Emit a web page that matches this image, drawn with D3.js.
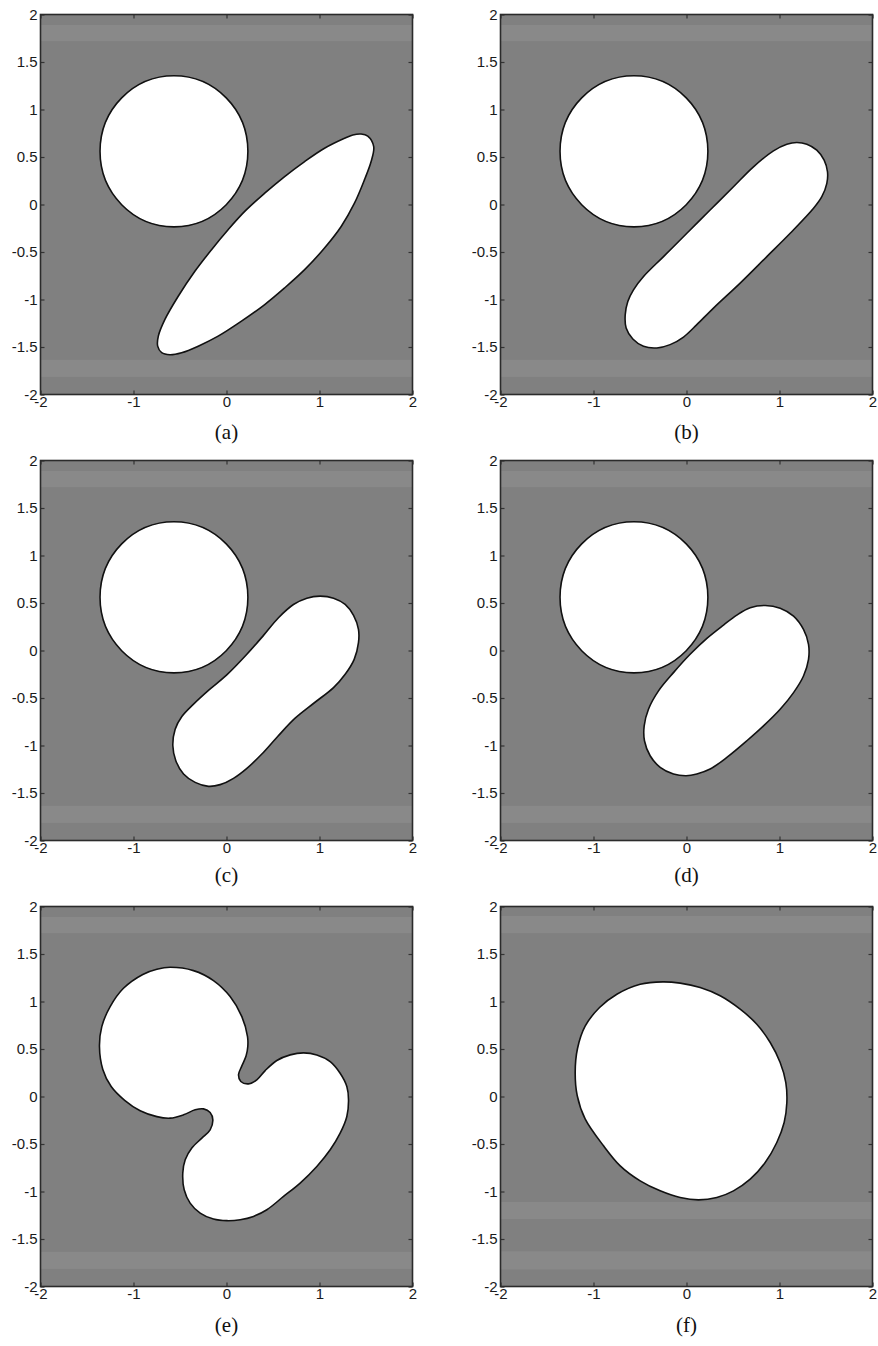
<!DOCTYPE html>
<html>
<head>
<meta charset="utf-8">
<script src="https://cdn.jsdelivr.net/npm/d3@7"></script>
<style>
  body { margin: 0; background: #fff; }
  svg { display: block; }
</style>
</head>
<body>
<svg id="fig" width="878" height="1346"></svg>
<script>
// Axis ticks
const xTicks = [-2, -1, 0, 1, 2];
const yTicks = [-2, -1.5, -1, -0.5, 0, 0.5, 1, 1.5, 2];
const panelNames = ["(a)", "(b)", "(c)", "(d)", "(e)", "(f)"];

// Fixed disc shown in panels (a)-(d)
const circleCenter = [-0.565, 0.56];
const circleRadius = 0.795;

// Lighter horizontal stripes of the background, [yLow, yHigh]
const stripes = [[1.72, 1.89], [-1.815, -1.635]];
const stripesF = [[1.72, 1.90], [-1.29, -1.11], [-1.82, -1.63]];

// Zero level-set boundaries, [x, y] points along each closed contour
const shapeA = [[1.447,0.742],[1.519,0.721],[1.583,0.609],[1.555,0.452],[1.483,0.259],[1.376,0.014],[1.233,-0.231],[1.054,-0.458],[0.840,-0.686],[0.625,-0.878],[0.411,-1.053],[0.161,-1.228],[-0.090,-1.386],[-0.304,-1.491],[-0.483,-1.560],[-0.608,-1.581],[-0.697,-1.560],[-0.740,-1.491],[-0.733,-1.386],[-0.662,-1.210],[-0.519,-0.966],[-0.340,-0.703],[-0.161,-0.476],[0.017,-0.266],[0.196,-0.073],[0.411,0.119],[0.625,0.294],[0.840,0.452],[1.054,0.592],[1.269,0.697],[1.358,0.732]];
const shapeB = [[0.935,0.565],[1.079,0.635],[1.186,0.653],[1.294,0.635],[1.401,0.572],[1.480,0.467],[1.516,0.345],[1.509,0.222],[1.455,0.082],[1.366,-0.040],[1.115,-0.303],[0.864,-0.548],[0.577,-0.827],[0.290,-1.090],[0.111,-1.265],[-0.032,-1.395],[-0.176,-1.475],[-0.319,-1.510],[-0.462,-1.493],[-0.577,-1.416],[-0.649,-1.300],[-0.659,-1.160],[-0.631,-1.020],[-0.570,-0.898],[-0.462,-0.758],[-0.247,-0.548],[0.004,-0.303],[0.254,-0.058],[0.505,0.187],[0.720,0.397]];
const shapeC = [[0.720,0.484],[0.864,0.551],[1.007,0.572],[1.151,0.551],[1.276,0.485],[1.366,0.369],[1.419,0.222],[1.419,0.082],[1.373,-0.093],[1.276,-0.250],[1.151,-0.390],[0.945,-0.550],[0.735,-0.715],[0.550,-0.905],[0.380,-1.090],[0.219,-1.241],[0.075,-1.346],[-0.068,-1.412],[-0.194,-1.430],[-0.337,-1.388],[-0.462,-1.300],[-0.545,-1.160],[-0.577,-1.003],[-0.552,-0.828],[-0.480,-0.695],[-0.360,-0.570],[-0.200,-0.425],[0.000,-0.260],[0.219,-0.040],[0.398,0.159],[0.559,0.345]];
const shapeD = [[0.685,0.450],[0.846,0.474],[1.007,0.446],[1.151,0.362],[1.258,0.222],[1.312,0.065],[1.312,-0.093],[1.258,-0.268],[1.151,-0.443],[1.007,-0.618],[0.828,-0.793],[0.649,-0.950],[0.434,-1.125],[0.254,-1.248],[0.111,-1.300],[-0.004,-1.318],[-0.140,-1.300],[-0.283,-1.230],[-0.391,-1.108],[-0.452,-0.950],[-0.455,-0.793],[-0.409,-0.618],[-0.301,-0.425],[-0.140,-0.233],[0.039,-0.040],[0.219,0.128],[0.398,0.268],[0.541,0.373]];
const shapeE = [[-0.606,1.360],[-0.355,1.325],[-0.140,1.220],[0.039,1.052],[0.165,0.841],[0.226,0.631],[0.229,0.526],[0.211,0.428],[0.165,0.322],[0.129,0.228],[0.154,0.158],[0.237,0.133],[0.326,0.175],[0.416,0.273],[0.541,0.379],[0.685,0.438],[0.828,0.459],[0.971,0.438],[1.115,0.368],[1.222,0.245],[1.294,0.105],[1.312,-0.035],[1.294,-0.210],[1.222,-0.386],[1.115,-0.561],[0.971,-0.736],[0.792,-0.911],[0.613,-1.052],[0.434,-1.192],[0.290,-1.262],[0.147,-1.297],[0.004,-1.307],[-0.140,-1.290],[-0.283,-1.227],[-0.391,-1.122],[-0.455,-0.981],[-0.470,-0.806],[-0.444,-0.666],[-0.373,-0.543],[-0.265,-0.438],[-0.176,-0.351],[-0.147,-0.245],[-0.176,-0.168],[-0.247,-0.130],[-0.337,-0.140],[-0.462,-0.193],[-0.606,-0.228],[-0.749,-0.212],[-0.928,-0.150],[-1.095,-0.040],[-1.240,0.105],[-1.330,0.285],[-1.366,0.526],[-1.341,0.736],[-1.251,0.946],[-1.108,1.139],[-0.900,1.285],[-0.749,1.339]];
const shapeF = [[-0.254,1.207],[-0.068,1.193],[0.147,1.147],[0.362,1.060],[0.577,0.919],[0.756,0.761],[0.900,0.568],[1.007,0.358],[1.068,0.147],[1.079,-0.063],[1.050,-0.274],[0.971,-0.484],[0.846,-0.695],[0.685,-0.870],[0.505,-0.993],[0.326,-1.063],[0.129,-1.088],[-0.068,-1.063],[-0.283,-0.993],[-0.498,-0.888],[-0.713,-0.730],[-0.892,-0.519],[-1.090,-0.235],[-1.175,0.010],[-1.197,0.253],[-1.172,0.505],[-1.090,0.740],[-0.935,0.937],[-0.749,1.077],[-0.498,1.182]];

const panelShapes = [shapeA, shapeB, shapeC, shapeD, shapeE, shapeF];
const panelHasCircle = [true, true, true, true, false, false];

// Grid of subplots
const colLeft = [40.5, 500.5];
const rowTop = [14.5, 460.5, 906.5];
const W = 372, H = 380;
const labelBaseline = [439, 882, 1332];

const svg = d3.select("#fig");
svg.append("rect").attr("width", 878).attr("height", 1346).attr("fill", "#fff");

const fmt = d => String(d);

panelNames.forEach((name, i) => {
  const r = Math.floor(i / 2), c = i % 2;
  const x = d3.scaleLinear().domain([-2, 2]).range([0, W]);
  const y = d3.scaleLinear().domain([-2, 2]).range([H, 0]);
  const g = svg.append("g").attr("transform", `translate(${colLeft[c]},${rowTop[r]})`);

  const clipId = "clip" + i;
  g.append("clipPath").attr("id", clipId)
    .append("rect").attr("width", W).attr("height", H);

  const plot = g.append("g").attr("clip-path", `url(#${clipId})`);
  plot.append("rect").attr("width", W).attr("height", H).attr("fill", "#808080");

  plot.selectAll("rect.stripe")
    .data(i === 5 ? stripesF : stripes)
    .join("rect")
    .attr("class", "stripe")
    .attr("x", 0).attr("width", W)
    .attr("y", d => y(d[1]))
    .attr("height", d => y(d[0]) - y(d[1]))
    .attr("fill", "#898989");

  if (panelHasCircle[i]) {
    plot.append("ellipse")
      .attr("cx", x(circleCenter[0]))
      .attr("cy", y(circleCenter[1]))
      .attr("rx", x(circleCenter[0] + circleRadius) - x(circleCenter[0]))
      .attr("ry", y(circleCenter[1]) - y(circleCenter[1] + circleRadius))
      .attr("fill", "#fff")
      .attr("stroke", "#111")
      .attr("stroke-width", 1.6);
  }

  const line = d3.line()
    .x(d => x(d[0]))
    .y(d => y(d[1]))
    .curve(d3.curveCatmullRomClosed.alpha(0.5));

  plot.append("path")
    .datum(panelShapes[i])
    .attr("d", line)
    .attr("fill", "#fff")
    .attr("stroke", "#111")
    .attr("stroke-width", 1.6);

  // Inward ticks on all four sides
  const axStyle = sel => {
    sel.select(".domain").remove();
    sel.selectAll(".tick line").attr("stroke", "#333").attr("stroke-width", 1.2);
    sel.selectAll(".tick text")
      .attr("fill", "#1a1a1a")
      .style("font-family", "'Liberation Sans', Arial, sans-serif")
      .style("font-size", "15px");
  };

  g.append("g").attr("transform", `translate(0,${H})`)
    .call(d3.axisBottom(x).tickValues(xTicks).tickSize(-4).tickPadding(2).tickFormat(fmt))
    .call(axStyle);
  g.append("g")
    .call(d3.axisLeft(y).tickValues(yTicks).tickSize(-4).tickPadding(3).tickFormat(fmt))
    .call(axStyle);
  g.append("g")
    .call(d3.axisTop(x).tickValues(xTicks).tickSize(-4).tickFormat(""))
    .call(axStyle);
  g.append("g").attr("transform", `translate(${W},0)`)
    .call(d3.axisRight(y).tickValues(yTicks).tickSize(-4).tickFormat(""))
    .call(axStyle);

  g.append("rect")
    .attr("width", W).attr("height", H)
    .attr("fill", "none")
    .attr("stroke", "#2b2b2b")
    .attr("stroke-width", 1.6);

  svg.append("text")
    .attr("x", colLeft[c] + W / 2)
    .attr("y", labelBaseline[r])
    .attr("text-anchor", "middle")
    .attr("fill", "#111")
    .style("font-family", "'Liberation Serif', 'Times New Roman', serif")
    .style("font-size", "21px")
    .text(name);
});
</script>
</body>
</html>
